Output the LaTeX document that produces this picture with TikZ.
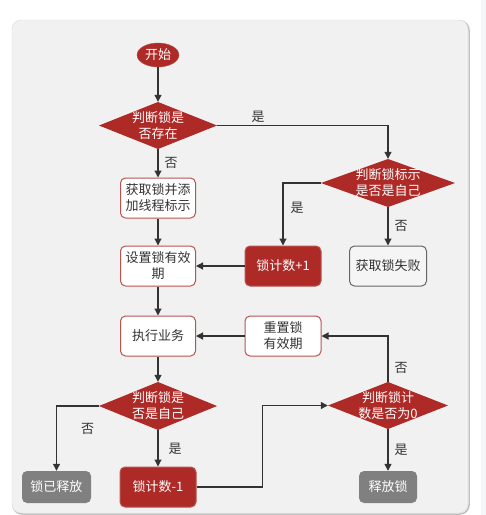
\documentclass[tikz,border=0pt]{standalone}
\usepackage{fontspec}
\setmainfont{Noto Sans CJK SC}
\usetikzlibrary{arrows.meta,positioning,shapes.geometric,calc}
\definecolor{LockRed}{HTML}{AD2A27}
\definecolor{LockRedLine}{HTML}{B85450}
\definecolor{LockGray}{HTML}{808080}
\definecolor{FailFill}{HTML}{F5F5F5}
\definecolor{FailLine}{HTML}{666666}
\definecolor{PanelFill}{HTML}{F1F1F1}
\definecolor{PanelLine}{HTML}{DCDCDC}
\definecolor{ScrollFill}{HTML}{F5F6F8}
\definecolor{TextDark}{HTML}{333333}
\newcommand{\cnfont}{\fontsize{13}{16}\selectfont}
\tikzset{
  startnode/.style={ellipse,draw=LockRedLine,fill=LockRed,minimum width=42pt,minimum height=24pt,inner sep=0pt,text=white,font=\cnfont},
  decnode/.style={minimum width=118pt,minimum height=47pt,inner sep=0pt,align=center,text=white,font=\cnfont,
    path picture={\fill[LockRed] (path picture bounding box.west) -- (path picture bounding box.north) -- (path picture bounding box.east) -- (path picture bounding box.south) -- cycle;}},
  procnode/.style={draw=LockRedLine,line width=1pt,fill=white,rounded corners=5pt,minimum width=75pt,minimum height=40pt,inner sep=2pt,align=center,text=TextDark,font=\cnfont},
  countnode/.style={draw=LockRedLine,line width=1pt,fill=LockRed,rounded corners=5pt,minimum width=76pt,minimum height=40pt,align=center,text=white,font=\cnfont},
  failnode/.style={draw=FailLine,line width=1pt,fill=FailFill,rounded corners=5pt,minimum width=77pt,minimum height=40pt,align=center,text=TextDark,font=\cnfont},
  endnode/.style={fill=LockGray,rounded corners=5pt,minimum height=32pt,align=center,text=white,font=\cnfont},
  flow/.style={-{Triangle[length=7pt,width=7pt]},line width=1.2pt,draw=TextDark},
  flowlabel/.style={text=TextDark,font=\cnfont,inner sep=2pt}
}
\begin{document}
\begin{tikzpicture}[x=1pt,y=-1pt]
\useasboundingbox (0,0) rectangle (486,515);
\fill[ScrollFill] (481,0) rectangle (486,515);
\draw[PanelLine!70!gray,line width=1.5pt,rounded corners=9pt] (13,21) rectangle (469,514);
\draw[PanelLine,fill=PanelFill,rounded corners=9pt] (12,20) rectangle (468,513);
\node[startnode] (start) at (158,55) {开始};
\node[decnode] (chkexist) at (158,125.5) {判断锁是\\否存在};
\node[procnode] (acquire) at (158,198) {获取锁并添\\加线程标示};
\node[procnode] (setexp) at (158,266) {设置锁有效\\期};
\node[procnode] (work) at (158,336) {执行业务};
\node[decnode,minimum height=48pt] (chkself) at (158,406) {判断锁是\\否是自己};
\node[countnode] (decr) at (158,487) {锁计数-1};
\node[endnode,minimum width=69pt] (released) at (56.5,487) {锁已释放};
\node[decnode,minimum width=134pt,minimum height=48pt] (chkowner) at (388,183) {判断锁标示\\是否是自己};
\node[countnode] (incr) at (283,266) {锁计数+1};
\node[failnode] (fail) at (388,266) {获取锁失败};
\node[procnode,minimum width=76pt] (reset) at (283,336) {重置锁\\有效期};
\node[decnode,minimum width=120pt] (chkzero) at (388,405.5) {判断锁计\\数是否为0};
\node[endnode,minimum width=58pt] (release) at (388,487) {释放锁};
\draw[flow] (start) -- (chkexist);
\draw[flow] (chkexist.east) -| (chkowner.north) node[flowlabel,pos=0.12,above] (yes1) {是};
\draw[flow] (chkexist.south) -- (acquire.north) node[flowlabel,midway,right=4pt] (no1) {否};
\draw[flow] (chkowner.west) -| (incr.north) node[flowlabel,pos=0.7,right=5pt] (yes2) {是};
\draw[flow] (chkowner.south) -- (fail.north) node[flowlabel,midway,right=4pt] (no2) {否};
\draw[flow] (acquire) -- (setexp);
\draw[flow] (incr) -- (setexp);
\draw[flow] (setexp) -- (work);
\draw[flow] (reset) -- (work);
\draw[flow] (work) -- (chkself);
\draw[flow] (chkself.west) -| (released.north) node[flowlabel,pos=0.68,right=22pt] (no3) {否};
\draw[flow] (chkself.south) -- (decr.north) node[flowlabel,midway,right=8pt] (yes3) {是};
\draw[flow] (decr.east) -- ++(66,0) |- (chkzero.west);
\draw[flow] (chkzero.north) |- (reset.east) node[flowlabel,pos=0.15,right=4pt] (no4) {否};
\draw[flow] (chkzero.south) -- (release.north) node[flowlabel,midway,right=4pt] (yes4) {是};
\end{tikzpicture}
\end{document}
